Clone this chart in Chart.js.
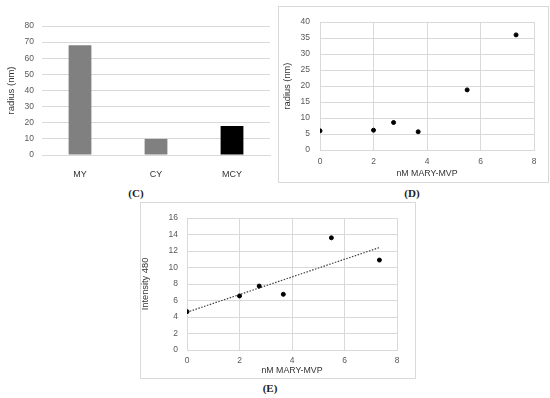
<!DOCTYPE html>
<html>
<head>
<meta charset="utf-8">
<script src="https://cdn.jsdelivr.net/npm/chart.js@4"></script>
<style>
  body { margin: 0; background: #fff; width: 550px; height: 398px; position: relative; overflow: hidden; }
  .panel { position: absolute; }
  .box { position: absolute; border: 1px solid #d9d9d9; box-sizing: border-box; }
  .cap { position: absolute; font-family: "Liberation Serif", "DejaVu Serif", serif; font-weight: bold; font-size: 11px; color: #222; transform: translate(-50%, -50%); }
</style>
</head>
<body>
<div class="panel" style="left:0;top:0"><canvas id="chartC" width="275" height="180"></canvas></div>
<div class="box" style="left:278px;top:6px;width:271px;height:177px"></div>
<div class="panel" style="left:279px;top:7px"><canvas id="chartD" width="269" height="174"></canvas></div>
<div class="box" style="left:140px;top:202px;width:276px;height:177px"></div>
<div class="panel" style="left:141px;top:203px"><canvas id="chartE" width="273" height="174"></canvas></div>
<div class="cap" style="left:136px;top:193px">(C)</div>
<div class="cap" style="left:412px;top:193px">(D)</div>
<div class="cap" style="left:270px;top:388px">(E)</div>
<script>
const barLabels = ["MY", "CY", "MCY"];
const barValues = [68, 10, 18];
const barColors = ["#808080", "#808080", "#000000"];

const nmX = [0, 2, 2.75, 3.67, 5.5, 7.33];
const radiusValues = [6, 6.2, 8.6, 5.7, 18.8, 36];
const intensityValues = [4.65, 6.55, 7.75, 6.75, 13.6, 10.9];

const gridColor = "#d9d9d9";
const tickColor = "#595959";
const titleColor = "#333";

Chart.defaults.font.family = "'Liberation Sans', Arial, sans-serif";
Chart.defaults.animation = false;

function tickFont() {
  return { size: 8.5 };
}

function createBarChart() {
  new Chart(document.getElementById("chartC"), {
    type: "bar",
    data: {
      labels: barLabels,
      datasets: [
        {
          data: barValues,
          backgroundColor: barColors,
          barPercentage: 0.3,
          categoryPercentage: 1,
        },
      ],
    },
    options: {
      responsive: false,
      layout: { padding: { left: 0, top: 26, right: 5, bottom: 0 } },
      plugins: { legend: { display: false }, tooltip: { enabled: false } },
      scales: {
        x: {
          grid: { display: false },
          border: { color: gridColor },
          ticks: { color: "#333", font: { size: 9 }, padding: 6 },
          afterFit: (s) => { s.height = 25; },
        },
        y: {
          min: 0,
          max: 80,
          ticks: { stepSize: 10, color: tickColor, font: tickFont(), padding: 8 },
          grid: { color: gridColor, drawTicks: false },
          border: { display: false },
          title: { display: true, text: "radius (nm)", color: titleColor, font: { size: 9.5 }, padding: { top: 6, bottom: 0 } },
          afterFit: (s) => { s.width = 42; },
        },
      },
    },
  });
}

function fitLine(xs, ys) {
  const n = xs.length;
  const mx = xs.reduce((a, b) => a + b, 0) / n;
  const my = ys.reduce((a, b) => a + b, 0) / n;
  let sxy = 0, sxx = 0;
  xs.forEach((x, i) => {
    sxy += (x - mx) * (ys[i] - my);
    sxx += (x - mx) * (x - mx);
  });
  const slope = sxy / sxx;
  const icpt = my - slope * mx;
  const x0 = Math.min(...xs), x1 = Math.max(...xs);
  return [{ x: x0, y: icpt + slope * x0 }, { x: x1, y: icpt + slope * x1 }];
}

function createScatter(id, ys, yMax, yStep, yTitle, box, extra) {
  const datasets = [
    {
      type: "scatter",
      data: nmX.map((x, i) => ({ x: x, y: ys[i] })),
      backgroundColor: "#000",
      borderColor: "#000",
      pointRadius: 2,
      order: 0,
    },
  ];
  if (extra) datasets.push(extra);
  new Chart(document.getElementById(id), {
    type: "scatter",
    data: { datasets: datasets },
    options: {
      responsive: false,
      layout: { padding: { left: 0, top: box.top, right: box.right, bottom: 0 } },
      plugins: { legend: { display: false }, tooltip: { enabled: false } },
      scales: {
        x: {
          type: "linear",
          min: 0,
          max: 8,
          ticks: { stepSize: 2, color: tickColor, font: tickFont(), padding: box.xPad },
          grid: { color: gridColor, drawTicks: false },
          border: { color: gridColor },
          title: { display: true, text: "nM MARY-MVP", color: titleColor, font: { size: 8.8 }, padding: { top: 0, bottom: box.xTitlePad } },
          afterFit: (s) => { s.height = box.xh; },
        },
        y: {
          min: 0,
          max: yMax,
          ticks: { stepSize: yStep, color: tickColor, font: tickFont(), padding: box.yPad },
          grid: { color: gridColor, drawTicks: false },
          border: { display: false },
          title: { display: true, text: yTitle, color: titleColor, font: { size: 9.3, lineHeight: 1 }, padding: { top: box.yTitlePad, bottom: 0 } },
          afterFit: (s) => { s.width = box.yw; },
        },
      },
    },
  });
}

createBarChart();

createScatter("chartD", radiusValues, 40, 5, "radius (nm)",
  { top: 8, right: 14, xh: 31, yw: 41, xPad: 7, yPad: 10, xTitlePad: 2.5, yTitlePad: 4 });

createScatter("chartE", intensityValues, 16, 2, "Intensity 480",
  { top: 15, right: 17, xh: 27, yw: 46, xPad: 6, yPad: 9, xTitlePad: 1.5, yTitlePad: 0 },
  {
    type: "line",
    data: fitLine(nmX, intensityValues),
    borderColor: "#404040",
    borderWidth: 1.2,
    borderDash: [1.5, 1.5],
    pointRadius: 0,
    fill: false,
    order: 1,
  });
</script>
</body>
</html>
